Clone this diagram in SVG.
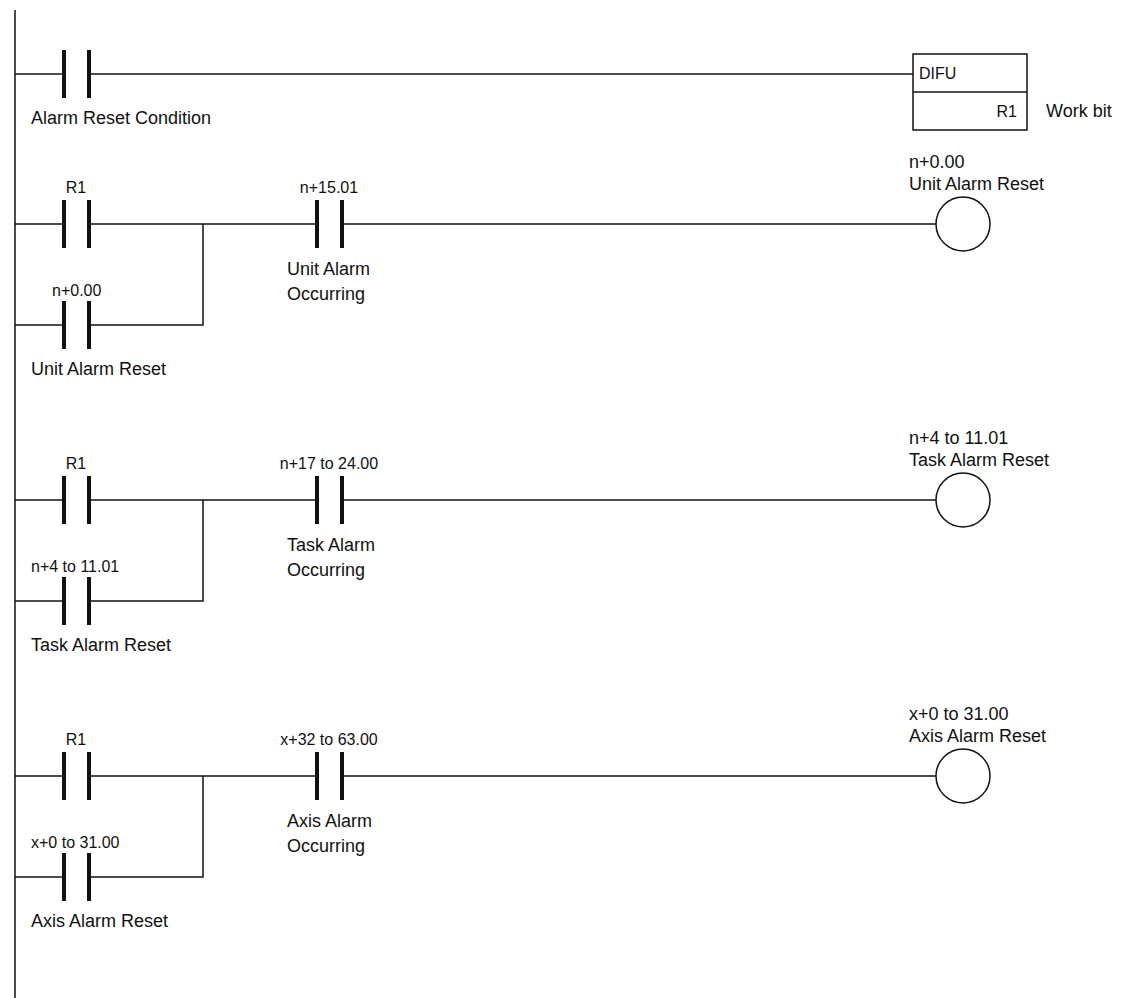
<svg xmlns="http://www.w3.org/2000/svg" width="1134" height="998" viewBox="0 0 1134 998">
<style>
.w{stroke:#111;stroke-width:1.5;fill:none}
.b{stroke:#111;stroke-width:4;fill:none}
.t{font-family:"Liberation Sans",Arial,sans-serif;font-size:18px;fill:#111}
.s{font-family:"Liberation Sans",Arial,sans-serif;font-size:16px;fill:#111}
</style>
<defs>
<g id="ct"><line class="b" x1="0" y1="-24" x2="0" y2="24"/><line class="b" x1="25" y1="-24" x2="25" y2="24"/></g>
<g id="rung">
<line class="w" x1="15" y1="0" x2="64" y2="0"/>
<line class="w" x1="89" y1="0" x2="317" y2="0"/>
<line class="w" x1="342" y1="0" x2="936" y2="0"/>
<line class="w" x1="15" y1="101" x2="64" y2="101"/>
<polyline class="w" points="89,101 203,101 203,0"/>
<use href="#ct" x="64" y="0"/><use href="#ct" x="64" y="101"/><use href="#ct" x="317" y="0"/>
<circle class="w" cx="963" cy="0" r="27" stroke-width="2"/>
<text class="s" x="76" y="-31" text-anchor="middle">R1</text>
</g>
</defs>
<g id="rail"><line class="w" x1="15" y1="10" x2="15" y2="998" stroke-width="2"/></g>
<g id="connectors">
<line class="w" x1="15" y1="74" x2="64" y2="74"/>
<line class="w" x1="89" y1="74" x2="913" y2="74"/>
</g>
<g id="alarm-reset-condition"><use href="#ct" x="64" y="74"/><text class="t" x="31" y="124">Alarm Reset Condition</text></g>
<g id="difu">
<rect x="913" y="54" width="114" height="76" class="w" stroke-width="3"/>
<line class="w" x1="913" y1="92" x2="1027" y2="92" stroke-width="3"/>
<text class="s" x="919" y="79">DIFU</text>
<text class="s" x="1017" y="117" text-anchor="end">R1</text>
<text class="t" x="1046" y="117">Work bit</text>
</g>
<g id="rung-unit">
<use href="#rung" y="224"/>
<text class="s" x="52" y="296">n+0.00</text>
<text class="t" x="31" y="375">Unit Alarm Reset</text>
<text class="s" x="329" y="193" text-anchor="middle">n+15.01</text>
<text class="t" x="287" y="275">Unit Alarm</text><text class="t" x="287" y="300">Occurring</text>
<text class="t" x="909" y="168">n+0.00</text><text class="t" x="909" y="190">Unit Alarm Reset</text>
</g>
<g id="rung-task">
<use href="#rung" y="500"/>
<text class="s" x="31" y="572">n+4 to 11.01</text>
<text class="t" x="31" y="651">Task Alarm Reset</text>
<text class="s" x="329" y="469" text-anchor="middle">n+17 to 24.00</text>
<text class="t" x="287" y="551">Task Alarm</text><text class="t" x="287" y="576">Occurring</text>
<text class="t" x="909" y="444">n+4 to 11.01</text><text class="t" x="909" y="466">Task Alarm Reset</text>
</g>
<g id="rung-axis">
<use href="#rung" y="776"/>
<text class="s" x="31" y="848">x+0 to 31.00</text>
<text class="t" x="31" y="927">Axis Alarm Reset</text>
<text class="s" x="329" y="745" text-anchor="middle">x+32 to 63.00</text>
<text class="t" x="287" y="827">Axis Alarm</text><text class="t" x="287" y="852">Occurring</text>
<text class="t" x="909" y="720">x+0 to 31.00</text><text class="t" x="909" y="742">Axis Alarm Reset</text>
</g>
</svg>
